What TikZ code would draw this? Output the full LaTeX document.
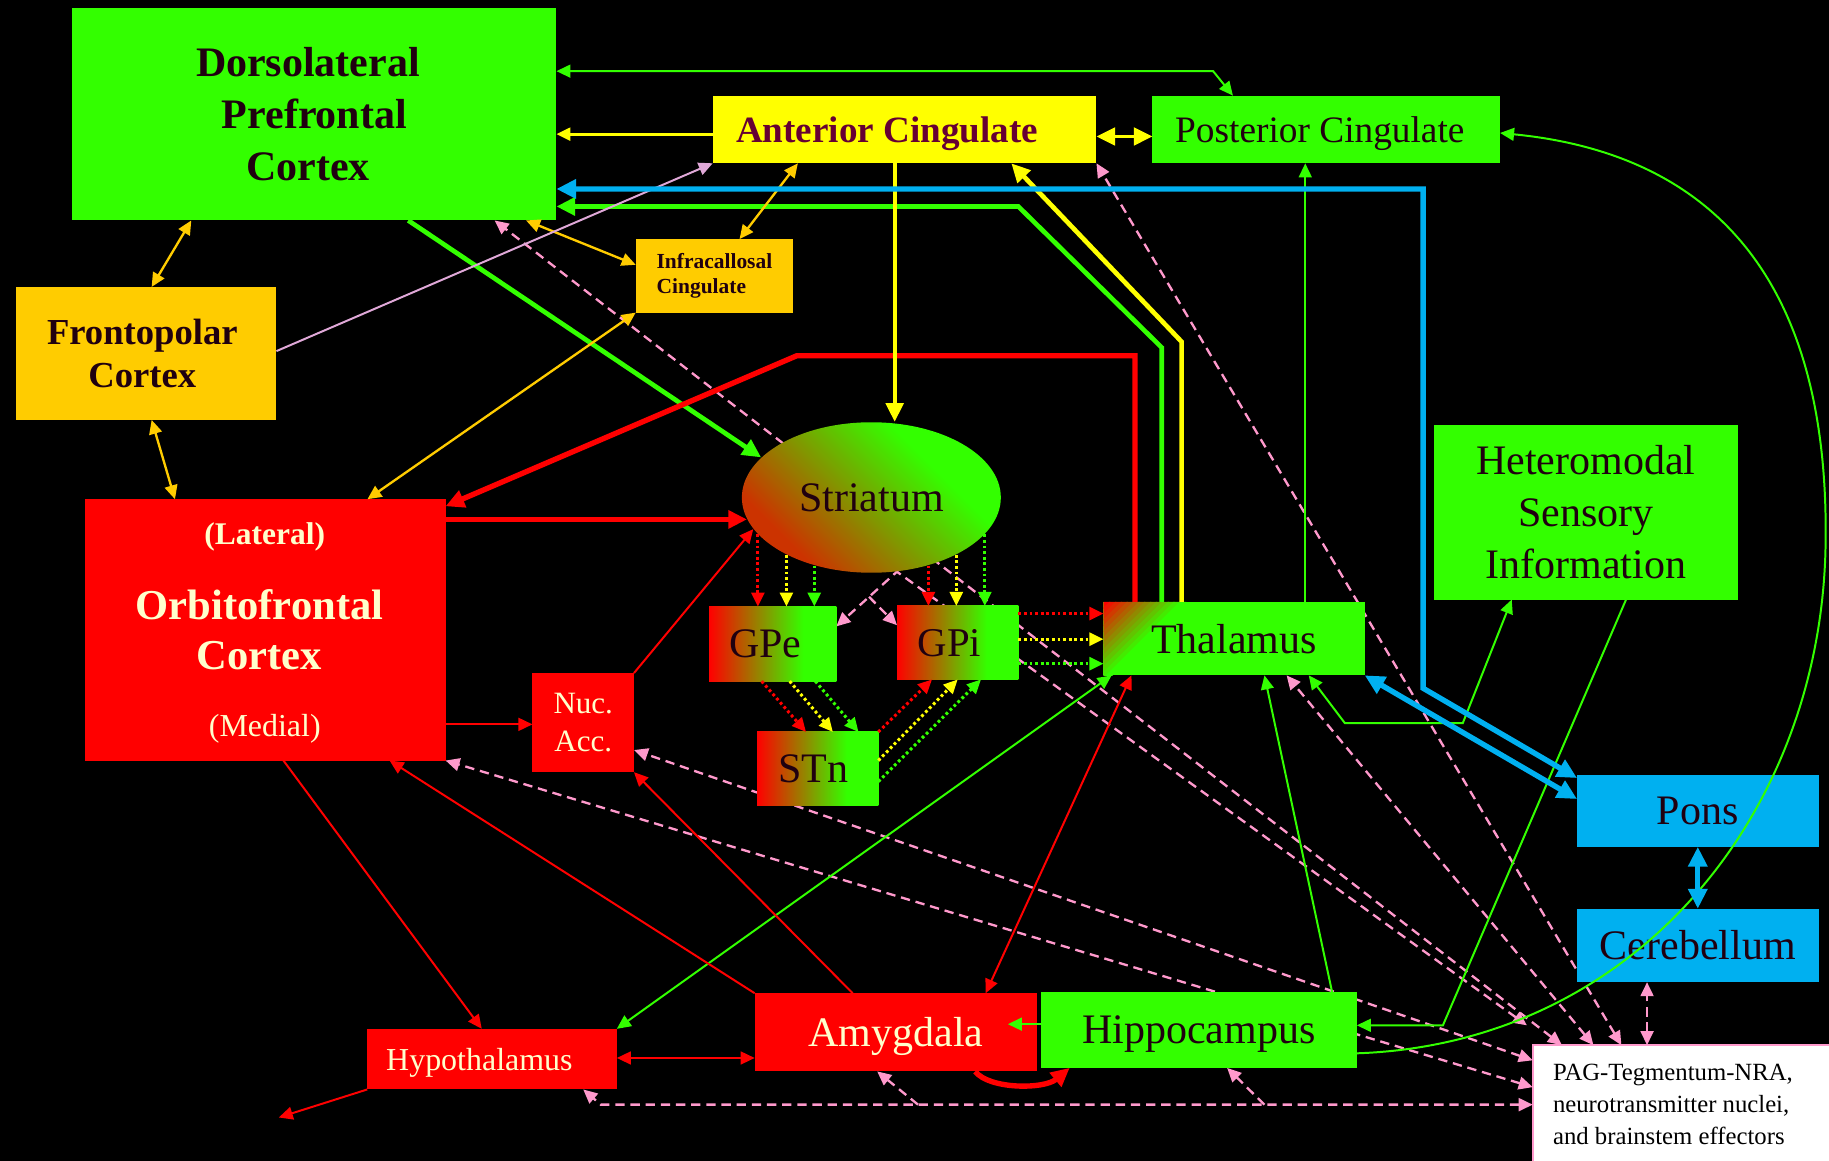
\documentclass[tikz,border=0pt]{standalone}
\usepackage{fontspec}
\setmainfont{Liberation Serif}
\usetikzlibrary{arrows.meta,shapes.geometric,calc}
\definecolor{grn}{HTML}{33FF00}
\definecolor{ylw}{HTML}{FFFF00}
\definecolor{org}{HTML}{FFCC00}
\definecolor{rd}{HTML}{FF0000}
\definecolor{blu}{HTML}{00B0F0}
\definecolor{pnk}{HTML}{FF99CC}
\definecolor{plm}{HTML}{E0A8D8}
\definecolor{dtx}{HTML}{200010}
\definecolor{actx}{HTML}{660033}
\definecolor{crm}{HTML}{FFFFCC}
\definecolor{strred}{HTML}{CC3300}
\pgfdeclarehorizontalshading{gpsh}{100bp}{color(0bp)=(rd); color(25bp)=(rd); color(62bp)=(grn); color(100bp)=(grn)}
\pgfdeclarehorizontalshading{strsh}{100bp}{color(0bp)=(strred); color(28bp)=(strred); color(66bp)=(grn); color(100bp)=(grn)}
\pgfdeclarelayer{bg}
\pgfsetlayers{bg,main}
\tikzset{
  ts/.tip={Triangle[length=6pt,width=5.5pt]},
  tm/.tip={Triangle[length=8pt,width=7.5pt]},
  tl/.tip={Triangle[length=8.5pt,width=8pt]},
  box/.style={rectangle, inner sep=0pt, outer sep=0pt},
  sz/.style 2 args={minimum width={#1*0.5pt}, minimum height={#2*0.5pt}},
  gline/.style={draw=grn, line width=0.85pt},
  rline/.style={draw=rd, line width=0.85pt},
  oline/.style={draw=org, line width=1pt},
  gthick/.style={draw=grn, line width=2pt},
  ythick/.style={draw=ylw, line width=2pt},
  rthick/.style={draw=rd, line width=2.3pt},
  bthick/.style={draw=blu, line width=2.3pt},
  pdash/.style={draw=pnk, line width=1pt, dash pattern=on 4pt off 2.5pt},
  dotl/.style={line width=1.3pt, dash pattern=on 1.2pt off 1.2pt},
  big/.style={font=\fontsize{18}{22.25}\selectfont},
  cornergrad/.style={path picture={
    \coordinate (tc) at (path picture bounding box.north west);
    \foreach \i in {0,...,13}{
      \pgfmathsetmacro\pc{100*\i/13}
      \fill[grn!\pc!rd] ($(tc)+(5*\i,0)$) -- ($(tc)+(5*\i+6,0)$) -- ($(tc)+(0,5*\i+6)$) -- ($(tc)+(0,5*\i)$) -- cycle;
    }}},
}
\begin{document}
\begin{tikzpicture}[x=0.5pt, y=-0.5pt]
\useasboundingbox (0,0) rectangle (1568,995);

% ---------- nodes ----------
\node[box, sz={415}{182}, fill=grn, text=dtx, align=center, font=\bfseries\fontsize{18}{22.25}\selectfont] (dlpfc) at (269.5,98) {Dorsolateral\hspace*{5.5pt}\\Prefrontal\hspace*{5.5pt}\\Cortex\hspace*{5.5pt}};
\node[box, sz={329}{58}, fill=ylw, text=actx, text depth=0pt, font=\bfseries\fontsize{15.9}{19}\selectfont] (ac) at (775.5,111) {Anterior Cingulate\hspace*{15pt}};
\node[box, sz={298}{58}, fill=grn, text=dtx, text depth=0pt, font=\fontsize{16}{19}\selectfont] (pc) at (1137,111) {Posterior Cingulate\hspace*{5.5pt}};
\node[box, sz={135}{63}, fill=org, text=dtx, align=left, font=\bfseries\fontsize{9.2}{10.5}\selectfont] (infra) at (612.5,236.5) {Infracallosal\\Cingulate};
\node[box, sz={223}{114}, fill=org, text=dtx, align=center, font=\bfseries\fontsize{15.7}{18.5}\selectfont] (fp) at (125.5,303) {Frontopolar\hspace*{3.5pt}\\Cortex\hspace*{3.5pt}};
\node[box, sz={309}{224}, fill=rd] (ofc) at (227.5,540) {};
\node[text=crm, font=\bfseries\fontsize{13.5}{16}\selectfont, inner sep=0pt] (ofcl) at (227,460) {(Lateral)};
\node[text=crm, align=center, font=\bfseries\fontsize{18.25}{21.5}\selectfont, inner sep=0pt] (ofcm) at (222.5,540) {Orbitofrontal\\Cortex};
\node[text=crm, font=\fontsize{13.7}{16}\selectfont, inner sep=0pt] (ofcd) at (227,625) {(Medial)};
\node[ellipse, inner sep=0pt, minimum width=111pt, minimum height=64.5pt, shade, shading=strsh, shading angle=45, text=dtx, big] (str) at (747,426.5) {Striatum};
\node[box, sz={109}{64}, shade, shading=gpsh, text=dtx, big] (gpe) at (662.5,552) {GPe\hspace*{6.5pt}};
\node[box, sz={104}{63}, shade, shading=gpsh, text=dtx, font=\fontsize{17.5}{21}\selectfont] (gpi) at (821,551) {GPi\hspace*{7pt}};
\node[box, sz={104}{63}, shade, shading=gpsh, text=dtx, big] (stn) at (701,659) {STn\hspace*{3.5pt}};
\node[box, sz={224}{63}, fill=grn, text=dtx, big, cornergrad] (thal) at (1058,547.5) {Thalamus};
\node[box, sz={87}{85}, fill=rd, text=crm, align=center, font=\fontsize{13.3}{16.5}\selectfont] (nuc) at (500,619.5) {Nuc.\\Acc.};
\node[box, sz={261}{150}, fill=grn, text=dtx, align=center, big] (het) at (1359.5,439) {Heteromodal\\Sensory\\Information};
\node[box, sz={207}{62}, fill=blu, text=dtx, big] (pons) at (1455.5,695) {Pons};
\node[box, sz={207}{63}, fill=blu, text=dtx, big] (cer) at (1455.5,810.5) {Cerebellum};
\node[box, sz={214}{52}, fill=rd, text=crm, text depth=0pt, font=\fontsize{13.7}{16}\selectfont] (hyp) at (421.8,908) {Hypothalamus\hspace*{10.8pt}};
\node[box, sz={242}{67}, fill=rd, text=crm, text depth=0pt, big] (amy) at (768,885) {Amygdala};
\node[box, sz={271}{65}, fill=grn, text=dtx, text depth=0pt, big] (hip) at (1027.7,883) {Hippocampus};
\node[box, sz={261}{106}, fill=white, draw=pnk, line width=0.8pt] (pag) at (1444.5,949) {};
\node[anchor=base west, inner sep=0pt, text=black, font=\fontsize{10.6}{13.9}\selectfont] (pag1) at (1331,926) {PAG-Tegmentum-NRA,};
\node[anchor=base west, inner sep=0pt, text=black, font=\fontsize{10.6}{13.9}\selectfont] (pag2) at (1331,954) {neurotransmitter nuclei,};
\node[anchor=base west, inner sep=0pt, text=black, font=\fontsize{10.6}{13.9}\selectfont] (pag3) at (1331,981.5) {and brainstem effectors};

\coordinate (hypout) at (239,958);
\coordinate (hb1) at (787,947);
\coordinate (hb2) at (1084,947);

% ---------- background layer: black + pink dashed ----------
\begin{pgfonlayer}{bg}
\fill[black] (0,0) rectangle (1568,995);
\draw[pdash, ts-ts] ($(pag.north west)+(-5,-17)$) -- (str.289) -- (gpe.east |- 0,537);
\draw[pdash, -ts] ($(str.289)!0.46!(gpe.east |- 0,537)$) -- (gpi.west |- 0,536);
\draw[pdash, ts-ts] (pag.north -| 1339,0) -- (dlpfc.south -| 424,0);
\draw[pdash, ts-ts] (pag.north -| 1366,0) -- (thal.south -| 1103,0);
\draw[pdash, ts-ts] (pag.north -| 1390,0) -- (ac.south east);
\draw[pdash, ts-ts] (pag.north -| 1412,0) -- (cer.south -| 1412,0);
\draw[pdash, ts-ts] (pag.west |- 0,909) -- (nuc.east |- 0,643);
\draw[pdash, ts-ts] (pag.west |- 0,932) -- (ofc.south east);
\draw[pdash, ts-ts] (pag.west |- 0,947) -- (515,947) -- (hyp.south -| 500,0);
\draw[pdash, -ts] (hb1) -- (amy.south -| 752,0);
\draw[pdash, -ts] (hb2) -- (hip.south -| 1052,0);
\end{pgfonlayer}

% ---------- thin green ----------
\draw[gline, ts-ts] (dlpfc.east |- 0,61) -- (1040,61) -- (pc.north -| 1057,0);
\draw[gline, -ts] (thal.north -| 1119,0) -- (pc.south -| 1119,0);
\draw[gline, -ts] (hip.north -| 1142,0) -- (thal.south -| 1084,0);
\draw[gline, -ts] (het.south -| 1394,0) -- (1237,879) -- (hip.east |- 0,879);
\draw[gline, ts-ts] (thal.south -| 1122,0) -- (1153,620) -- (1254,620) -- (het.south -| 1296,0);
\draw[gline, ts-ts] (thal.south -| 953,0) -- (hyp.north east);
\draw[gline, -ts] (hip.west |- 0,878) -- ($(amy.east |- 0,878)+(-25,0)$);
\draw[gline, -ts] (hip.east |- 0,903) .. controls (1400,895) and (1560,700) .. (1565,470) .. controls (1570,220) and (1450,130) .. (pc.east |- 0,114);

% ---------- thick ----------
\draw[gthick, -tm] (thal.north -| 996,0) -- (996,298) -- (873,177) -- (dlpfc.east |- 0,177);
\draw[gthick, -tm] (dlpfc.south -| 350,0) -- (str.160);
\draw[ythick, -tm] (thal.north -| 1013,0) -- (1013,293) -- (ac.south -| 867,0);
\draw[rthick, -tm] (thal.north -| 973,0) -- (973,305) -- (683,305) -- (ofc.east |- 0,434);
\draw[rthick, -tm] (ofc.east |- str.190) -- (str.190);
\draw[draw=ylw, line width=1.7pt, -tm] (ac.south -| 767,0) -- (str.north -| 767,0);
\draw[draw=ylw, line width=1.2pt, -ts] (ac.west |- 0,115) -- (dlpfc.east |- 0,115);
\draw[draw=ylw, line width=1.5pt, tm-tm] (ac.east |- 0,117) -- (pc.west |- 0,117);

% ---------- orange / plum ----------
\draw[oline, ts-ts] (dlpfc.south -| 164,0) -- (fp.north -| 130,0);
\draw[oline, ts-ts] (fp.south -| 130,0) -- (ofc.north -| 150,0);
\draw[oline, ts-ts] (dlpfc.south -| 451,0) -- (infra.west |- 0,227);
\draw[oline, ts-ts] (ac.south -| 684,0) -- (infra.north -| 634,0);
\draw[oline, ts-ts] (infra.south west) -- (ofc.north -| 315,0);
\draw[draw=plm, line width=0.85pt, -ts] (fp.east |- 0,301) -- (ac.south west);

% ---------- blue ----------
\draw[bthick, tl-tl] (dlpfc.east |- 0,162) -- (1220,162) -- (1220,590) -- (pons.west |- 0,667);
\draw[bthick, tl-tl] (thal.south east) -- (pons.west |- 0,685);
\draw[draw=blu, line width=2pt, tl-tl] (pons.south) -- (cer.north);

% ---------- red thin ----------
\draw[rline, -ts] (ofc.east |- 0,621) -- (nuc.west |- 0,621);
\draw[rline, -ts] (nuc.north east) -- (str.195);
\draw[rline, -ts] (ofc.south -| 243,0) -- (hyp.north -| 413,0);
\draw[rline, -ts] (amy.north west) -- (ofc.south -| 334,0);
\draw[rline, -ts] (amy.north -| 731,0) -- (nuc.south east);
\draw[rline, ts-ts] (thal.south -| 970,0) -- (amy.north -| 845,0);
\draw[rline, ts-ts] (hyp.east |- 0,907) -- (amy.west |- 0,907);
\draw[rline, -ts] (hyp.south west) -- (hypout);
\draw[rthick, -tm] (amy.south -| 836,0) .. controls (848,934) and (895,934) .. (hip.south -| 917,0);

% ---------- dotted ----------
\draw[dotl, draw=rd, -ts] (str.198) -- (str.198 |- gpe.north);
\draw[dotl, draw=ylw, -ts] (str.214) -- (str.214 |- gpe.north);
\draw[dotl, draw=grn, -ts] (str.230) -- (str.230 |- gpe.north);
\draw[dotl, draw=rd, -ts] (str.310) -- (str.310 |- gpi.north);
\draw[dotl, draw=ylw, -ts] (str.326) -- (str.326 |- gpi.north);
\draw[dotl, draw=grn, -ts] (str.342) -- (str.342 |- gpi.north);
\draw[dotl, draw=rd, -ts] (gpe.south -| 653,0) -- (stn.north -| 691,0);
\draw[dotl, draw=ylw, -ts] (gpe.south -| 677,0) -- (stn.north -| 714,0);
\draw[dotl, draw=grn, -ts] (gpe.south -| 699,0) -- (stn.north -| 736,0);
\draw[dotl, draw=rd, -ts] (stn.north east) -- (gpi.south -| 799,0);
\draw[dotl, draw=ylw, -ts] (stn.east |- 0,652) -- (gpi.south -| 821,0);
\draw[dotl, draw=grn, -ts] (stn.east |- 0,670) -- (gpi.south -| 841,0);
\draw[dotl, draw=rd, -ts] (gpi.east |- 0,526) -- (thal.west |- 0,526);
\draw[dotl, draw=ylw, -ts] (gpi.east |- 0,548) -- (thal.west |- 0,548);
\draw[dotl, draw=grn, -ts] (gpi.east |- 0,569) -- (thal.west |- 0,569);
\end{tikzpicture}
\end{document}
